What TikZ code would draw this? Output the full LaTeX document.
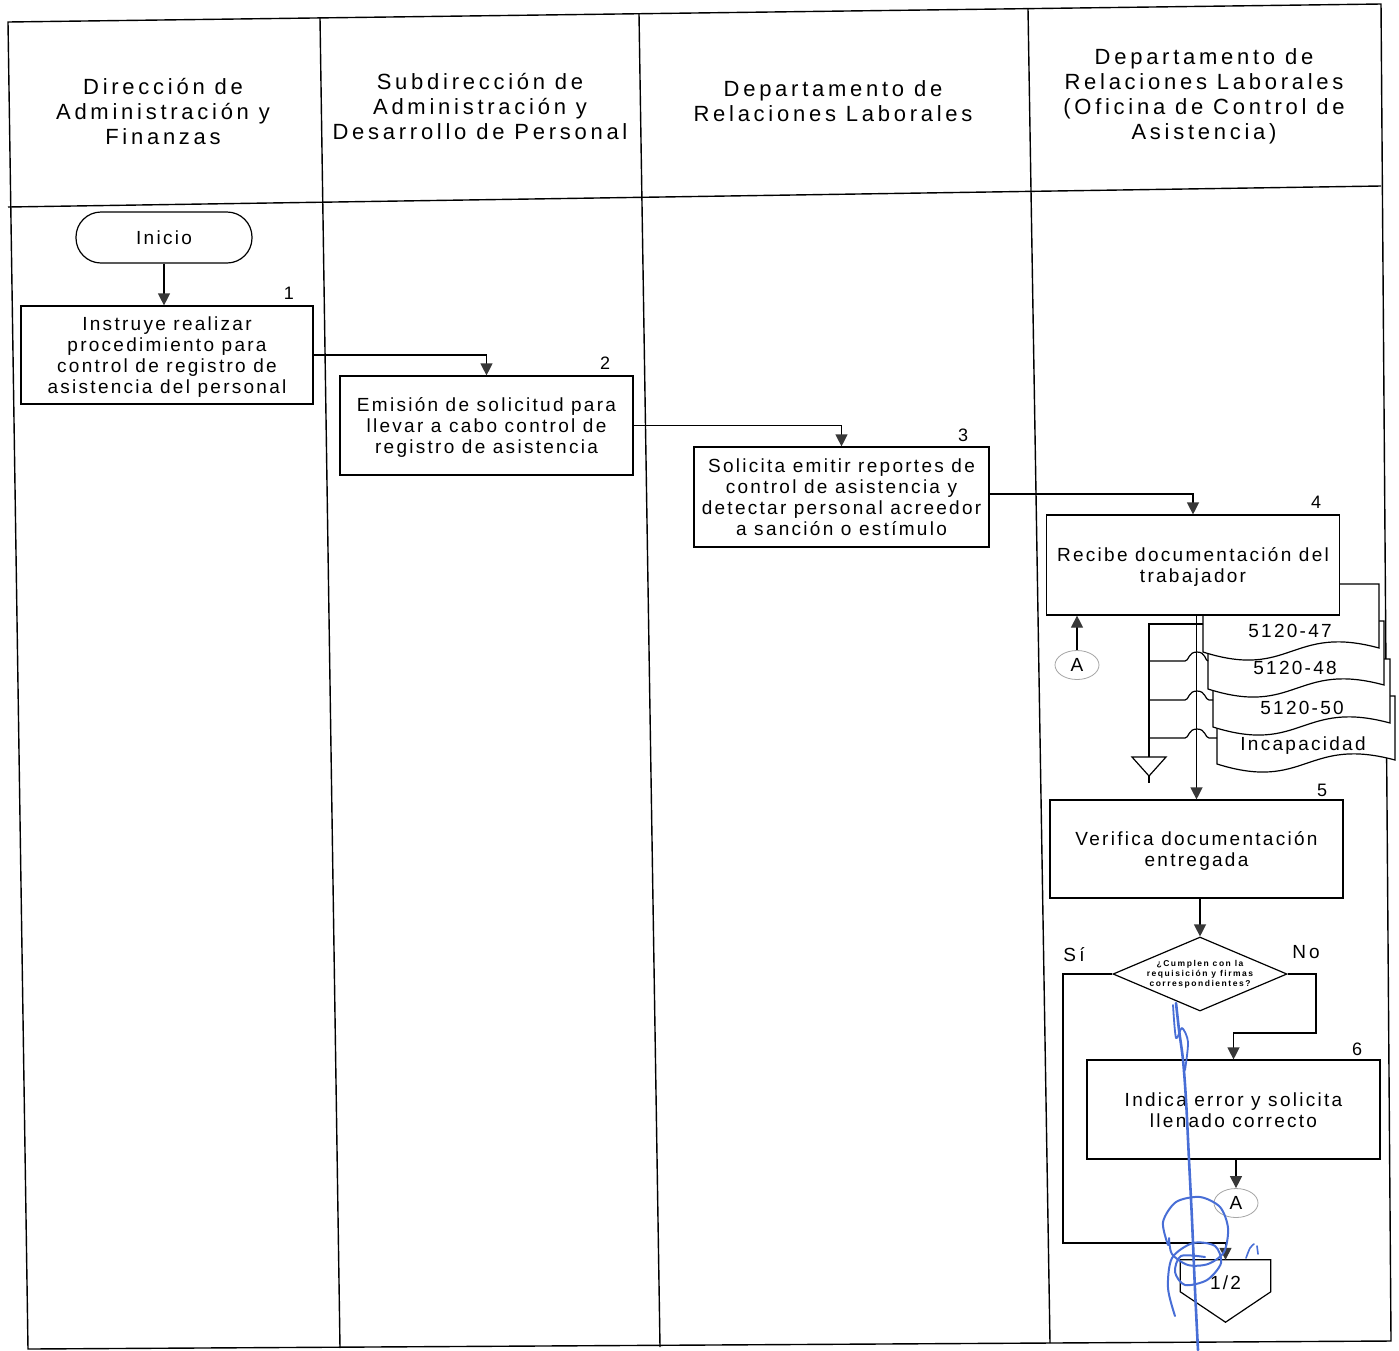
\documentclass[tikz,border=0pt]{standalone}
\usepackage{fontspec}
\setmainfont{Liberation Sans}
\newfontfamily\hdrfont[LetterSpace=17]{Liberation Sans}
\newfontfamily\boxfont[LetterSpace=12]{Liberation Sans}
\newfontfamily\wideface[LetterSpace=18]{Liberation Sans}
\usetikzlibrary{arrows.meta,shapes.geometric,calc}
\newcommand\hdrtxt{\hdrfont\fontsize{22}{25}\selectfont}
\newcommand\boxtxt{\boxfont\fontsize{19}{21}\selectfont}
\newcommand\numtxt{\fontsize{18}{20}\selectfont}
\newcommand\qtxt{\wideface\bfseries\fontsize{8.5}{10}\selectfont}
\definecolor{ink}{RGB}{72,110,214}
\tikzset{
  lane/.style={line width=1.4pt},
  wire/.style={line width=1.2pt},
  arr/.style={line width=1.2pt,-{Triangle[width=12pt,length=12pt,color=black!78]}},
  hdr/.style={align=center,font=\hdrtxt,inner sep=0pt},
  proc/.style={draw,line width=1.2pt,fill=white,align=center,font=\boxtxt,inner sep=0pt,text depth=0pt},
  two/.style={text height=35pt},
  three/.style={text height=56pt},
  four/.style={text height=77pt},
  num/.style={font=\numtxt,inner sep=0pt},
  conn/.style={ellipse,draw=black!35,line width=0.8pt,minimum width=44pt,minimum height=29pt,inner sep=0pt,font=\boxtxt},
  lbl/.style={font=\boxtxt,inner sep=0pt},
  sig/.style={ink,line cap=round,line join=round}
}
\begin{document}
\begin{tikzpicture}[x=1pt,y=-1pt]
\useasboundingbox (0,0) rectangle (1399,1350);
\fill[white] (0,0) rectangle (1399,1350);

% swimlane table
\draw[lane] (8,22) -- (1381,4) -- (1391,1341) -- (28,1349) -- cycle;
\draw[lane] (8,207) -- (1381,186);
\draw[lane] (320,18) -- (340,1348);
\draw[lane] (639,14) -- (660,1347);
\draw[lane] (1028,9) -- (1050,1343);

% lane headers
\node[hdr] (h1) at (163,111.5) {Dirección de\\Administración y\\Finanzas};
\node[hdr] (h2) at (480,106.5) {Subdirección de\\Administración y\\Desarrollo de Personal};
\node[hdr] (h3) at (833,101.5) {Departamento de\\Relaciones Laborales};
\node[hdr] (h4) at (1204,96.5) {Departamento de\\Relaciones Laborales\\(Oficina de Control de\\Asistencia)};

% start
\node[draw,line width=1.2pt,rounded corners=25pt,minimum width=176pt,minimum height=51pt,font=\boxtxt,inner sep=0pt] (ini) at (164,237.5) {Inicio};

% process steps
\node[proc,four,minimum width=292pt,minimum height=98pt] (b1) at (167,355) {Instruye realizar\\procedimiento para\\control de registro de\\asistencia del personal};
\node[proc,three,minimum width=293pt,minimum height=99pt] (b2) at (486.5,425.5) {Emisión de solicitud para\\llevar a cabo control de\\registro de asistencia};
\node[proc,four,minimum width=295pt,minimum height=100pt] (b3) at (841.5,497) {Solicita emitir reportes de\\control de asistencia y\\detectar personal acreedor\\a sanción o estímulo};

% document stack (back to front)
\draw[wire,fill=white] (1217,696) -- (1395,696) -- (1395,760) .. controls (1306,736) and (1306,792) .. (1217,764) -- cycle;
\draw[wire,fill=white] (1213,659) -- (1390,659) -- (1390,723) .. controls (1301.5,699) and (1301.5,755) .. (1213,727) -- cycle;
\draw[wire,fill=white] (1208,621) -- (1384,621) -- (1384,685) .. controls (1296,661) and (1296,717) .. (1208,689) -- cycle;
\draw[wire,fill=white] (1203,584) -- (1379,584) -- (1379,648) .. controls (1291,624) and (1291,680) .. (1203,652) -- cycle;
\node[lbl] (d1) at (1290,631) {5120-47};
\node[lbl] (d2) at (1295,668) {5120-48};
\node[lbl] (d3) at (1302,708) {5120-50};
\node[lbl] (d4) at (1303,746) {Incapacidad};

\node[proc,two,minimum width=293pt,minimum height=100pt] (b4) at (1193,565) {Recibe documentación del\\trabajador};
\node[proc,two,minimum width=293pt,minimum height=98pt] (b5) at (1196.5,849) {Verifica documentación\\entregada};
\node[proc,two,minimum width=293pt,minimum height=99pt] (b6) at (1233.5,1109.5) {Indica error y solicita\\llenado correcto};

% step numbers
\node[num] (n1) at (289,293) {1};
\node[num] (n2) at (605,363) {2};
\node[num] (n3) at (963,435) {3};
\node[num] (n4) at (1316,502) {4};
\node[num] (n5) at (1322,790) {5};
\node[num] (n6) at (1357,1049) {6};

% flow between lanes
\draw[arr] (ini.south) -- (ini.south |- b1.north);
\draw[arr] (b1.east) -| (b2.north);
\draw[arr] (b2.east) -| (b3.north);
\coordinate (r3) at ($(b3.east)+(0,-3)$);
\draw[arr] (r3) -| (b4.north);

% documents filed: bus to archive
\coordinate (busT) at (1149,624);
\coordinate (busB) at (1149,757);
\draw[wire] (1203,624) -- (busT) -- (busB);
\draw[wire] (1132,757) -- (1166,757) -- (1149,776) -- cycle;
\draw[wire] (1149,776) -- (1149,783);
\draw[wire] (1149,661) -- (1185,661) .. controls (1189,661) and (1188,652) .. (1197,652) .. controls (1206,652) and (1205,661) .. (1208,661);
\draw[wire] (1149,700) -- (1185,700) .. controls (1189,700) and (1188,691) .. (1197,691) .. controls (1206,691) and (1205,700) .. (1209,700) -- (1213,700);
\draw[wire] (1149,738) -- (1185,738) .. controls (1189,738) and (1188,729) .. (1197,729) .. controls (1206,729) and (1205,738) .. (1209,738) -- (1217,738);

\draw[arr] (b4.south -| b5.north) -- (b5.north);

% return connector A into step 4
\node[conn] (A1) at (1077,665) {A};
\draw[arr] (A1.north) -- (A1.north |- b4.south);

% decision
\node[diamond,draw,line width=1.2pt,fill=white,minimum width=174pt,minimum height=74pt,inner sep=0pt] (dq) at (1200,974) {};
\node[font=\qtxt,align=center,inner sep=0pt] (dqt) at (1200,974) {¿Cumplen con la\\requisición y firmas\\correspondientes?};
\draw[arr] (b5.south -| dq.north) -- (dq.north);
\node[font=\hdrfont\fontsize{19}{21}\selectfont,inner sep=0pt] (yes) at (1074,955) {Sí};
\node[font=\hdrfont\fontsize{19}{21}\selectfont,inner sep=0pt] (no) at (1306,952) {No};

\coordinate (nob) at (1316,1033);
\draw[arr] (dq.east) -| (nob) -| (b6.north);

\node[conn] (A2) at (1236,1203) {A};
\draw[arr] (b6.south -| A2.north) -- (A2.north);

% off-page connector
\node[minimum width=90pt,minimum height=46pt,inner sep=0pt,font=\boxtxt] (op) at (1225.5,1283) {1/2};
\draw[wire] (op.north west) -- (op.north east) -- ($(op.north east)+(0,32)$) -- ($(op.south)+(0,16)$) -- ($(op.north west)+(0,32)$) -- cycle;

\coordinate (sib) at (1063,1243);
\draw[arr] (dq.west) -| (sib) -| (op.north);

% ink signature
\draw[sig,line width=2.6pt] plot[smooth] coordinates {(1176,1003) (1179,1030) (1183,1060) (1186,1100) (1189,1160) (1192,1220) (1195,1290) (1198,1350)};
\draw[sig,line width=1.8pt] plot[smooth] coordinates {(1173,1005) (1176,1038) (1182,1028) (1188,1042) (1185,1070)};
\draw[sig,line width=2pt] plot[smooth] coordinates {(1168,1245) (1163,1222) (1176,1202) (1200,1197) (1220,1207) (1228,1228) (1224,1252) (1208,1264) (1188,1265) (1172,1254) (1169,1238)};
\draw[sig,line width=2pt] plot[smooth] coordinates {(1175,1316) (1168,1288) (1172,1258) (1193,1243) (1215,1246) (1221,1263) (1207,1280) (1185,1285) (1175,1272) (1181,1256) (1205,1257)};
\draw[sig,line width=1.6pt] plot[smooth] coordinates {(1246,1258) (1250,1248) (1254,1244)};
\draw[sig,line width=1.6pt] (1257,1246) -- (1258,1254);
\end{tikzpicture}
\end{document}
